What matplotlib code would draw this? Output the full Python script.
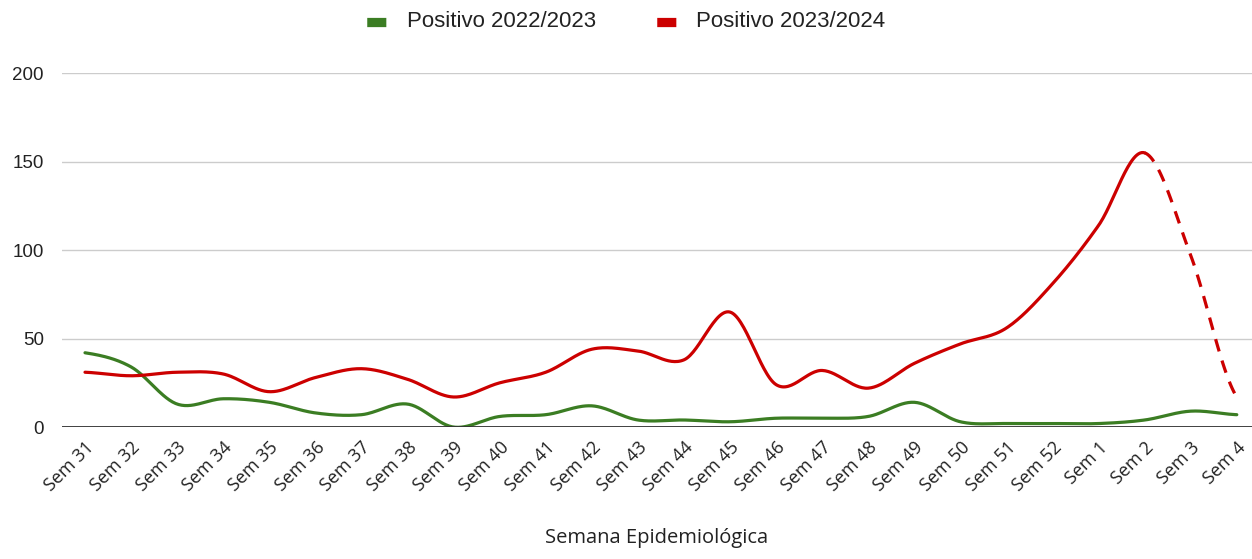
import numpy as np
import matplotlib; matplotlib.use('Agg')
import matplotlib.pyplot as plt

weeks = [f'Sem {i}' for i in range(31, 53)] + [f'Sem {i}' for i in range(1, 5)]
pos_2223 = [42, 34, 13, 16, 14, 8, 7, 13, 0, 6, 7, 12, 4, 4, 3, 5, 5, 6, 14, 3, 2, 2, 2, 4, 9, 7]
pos_2324 = [31, 29, 31, 30, 20, 28, 33, 27, 17, 25, 31, 44, 43, 38, 65, 24, 32, 22, 36, 47, 56, 81, 114, 155, 97, 17]
DASH_FROM = 23  # Sem 2 onward is dashed (incomplete data)

GREEN = '#3b7d23'
RED = '#cc0000'


def smooth(y, n=30, k=0.5):
    # cardinal spline through the points (rendering only)
    y = np.asarray(y, float)
    x = np.arange(len(y), dtype=float)
    xs, ys = [], []
    for i in range(len(y) - 1):
        p0 = y[i - 1] if i > 0 else y[i]
        p3 = y[i + 2] if i + 2 < len(y) else y[i + 1]
        m1 = k * (y[i + 1] - p0)
        m2 = k * (p3 - y[i])
        t = np.linspace(0, 1, n, endpoint=False)
        h00 = 2*t**3 - 3*t**2 + 1; h10 = t**3 - 2*t**2 + t
        h01 = -2*t**3 + 3*t**2; h11 = t**3 - t**2
        xs.append(x[i] + t)
        ys.append(h00*y[i] + h10*m1 + h01*y[i+1] + h11*m2)
    xs.append([x[-1]]); ys.append([y[-1]])
    return np.concatenate(xs), np.concatenate(ys)


fig = plt.figure(figsize=(12.52, 5.59), dpi=100)
ax = fig.add_axes([0.0495, 0.236, 0.9505, 0.633])

gx, gy = smooth(pos_2223)
ax.plot(gx, gy, color=GREEN, lw=2.3, solid_capstyle='round')

rx, ry = smooth(pos_2324)
cut = rx <= DASH_FROM
ax.plot(rx[cut], ry[cut], color=RED, lw=2.3, solid_capstyle='round')
ax.plot(rx[rx >= DASH_FROM], ry[rx >= DASH_FROM], color=RED, lw=2.3, ls=(0, (4, 3)))

ax.set_xlim(-0.5, 25.33)
ax.set_ylim(0, 200)
ax.set_yticks([0, 50, 100, 150, 200])
ax.grid(axis='y', color='#cccccc', lw=1)
ax.axhline(0, color='#333333', lw=1.3)
for s in ax.spines.values():
    s.set_visible(False)
ax.tick_params(length=0)
ax.tick_params(axis='y', labelsize=13.5, labelcolor='#222222', pad=13)
for lab in ax.get_yticklabels():
    lab.set_fontfamily('Liberation Sans')

ax.set_xticks(range(len(weeks)))
ax.set_xticklabels(weeks, rotation=45, ha='right', rotation_mode='anchor',
                   fontsize=13, family='Open Sans', color='#222222')
ax.tick_params(axis='x', pad=8)
ax.set_xlabel('Semana Epidemiológica', fontsize=14.5, family='Open Sans', color='#222222', labelpad=24)

# legend
fig.text(0.291, 0.960, '▬', color=GREEN, fontsize=18, ha='left', va='center', family='DejaVu Sans')
fig.text(0.325, 0.962, 'Positivo 2022/2023', fontsize=16, ha='left', va='center', family='Liberation Sans', color='#222222')
fig.text(0.523, 0.960, '▬', color=RED, fontsize=18, ha='left', va='center', family='DejaVu Sans')
fig.text(0.556, 0.962, 'Positivo 2023/2024', fontsize=16, ha='left', va='center', family='Liberation Sans', color='#222222')

fig.savefig('out.png', dpi=100)
